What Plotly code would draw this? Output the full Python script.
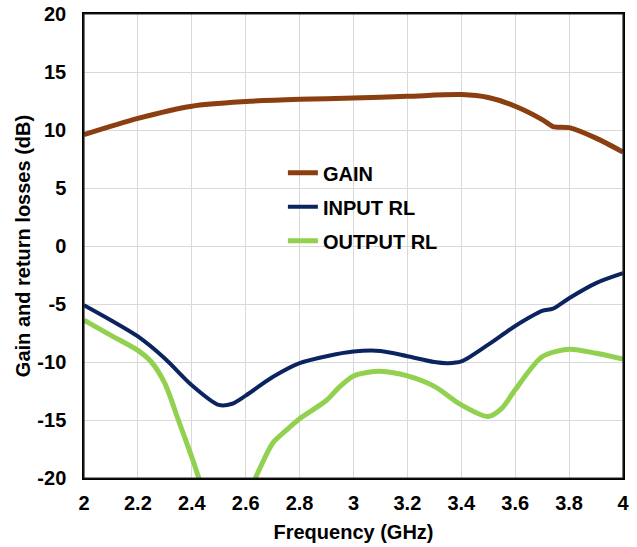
import plotly.graph_objects as go

freq_gain = [2.0, 2.2, 2.4, 2.6, 2.8, 3.0, 3.2, 3.4, 3.5, 3.6, 3.7, 3.74, 3.8, 3.9, 4.0]
gain = [9.6, 11.0, 12.05, 12.45, 12.65, 12.75, 12.9, 13.05, 12.8, 12.05, 10.9, 10.3, 10.2, 9.3, 8.1]

freq_in = [2.0, 2.1, 2.2, 2.3, 2.4, 2.5, 2.55, 2.6, 2.7, 2.8, 2.9, 3.0, 3.1, 3.2, 3.3, 3.35, 3.4,
           3.5, 3.6, 3.7, 3.74, 3.8, 3.9, 4.0]
input_rl = [-5.1, -6.4, -7.8, -9.7, -12.0, -13.7, -13.6, -12.9, -11.3, -10.1, -9.5, -9.1, -9.05,
            -9.5, -10.0, -10.1, -9.95, -8.5, -6.9, -5.6, -5.4, -4.5, -3.2, -2.35]

freq_out = [2.0, 2.1, 2.2, 2.25, 2.3, 2.35, 2.4, 2.45, 2.5, 2.55, 2.6, 2.65, 2.7, 2.75, 2.8, 2.9,
            2.95, 3.0, 3.05, 3.1, 3.2, 3.3, 3.4, 3.5, 3.55, 3.6, 3.7, 3.8, 3.9, 4.0]
output_rl = [-6.4, -7.7, -9.0, -10.0, -11.85, -15.0, -18.2, -21.5, -23.5, -23.5, -21.8, -19.3,
             -17.0, -15.9, -14.9, -13.3, -12.1, -11.2, -10.9, -10.8, -11.2, -12.1, -13.7, -14.7,
             -14.0, -12.4, -9.55, -8.9, -9.25, -9.75]

x_ticks = [2, 2.2, 2.4, 2.6, 2.8, 3, 3.2, 3.4, 3.6, 3.8, 4]
y_ticks = [-20, -15, -10, -5, 0, 5, 10, 15, 20]

FONT = "Liberation Sans, Arial, sans-serif"

fig = go.Figure()
fig.add_trace(go.Scatter(x=freq_gain, y=gain, mode="lines", name="<b>GAIN</b>", legendgroup="a",
                         line=dict(color="#8B3E0F", width=5, shape="spline", smoothing=0.8)))
fig.add_trace(go.Scatter(x=freq_in, y=input_rl, mode="lines", name="<b>INPUT RL</b>", legendgroup="b",
                         line=dict(color="#0B2460", width=4, shape="spline", smoothing=0.8)))
fig.add_trace(go.Scatter(x=freq_out, y=output_rl, mode="lines", name="<b>OUTPUT RL</b>", legendgroup="c",
                         line=dict(color="#92D050", width=5, shape="spline", smoothing=0.8)))

fig.update_layout(
    width=637, height=547,
    margin=dict(l=84, r=14, t=14, b=69),
    paper_bgcolor="white", plot_bgcolor="white",
    font=dict(family=FONT, size=20, color="black"),
    showlegend=True,
    legend=dict(x=0.369, y=0.70, xanchor="left", yanchor="top", bgcolor="rgba(0,0,0,0)",
                font=dict(size=20, family=FONT), tracegroupgap=5, itemwidth=30),
    shapes=[dict(type="rect", xref="paper", yref="paper", x0=0, x1=1, y0=0, y1=1,
                 line=dict(color="#222222", width=1.2), fillcolor="rgba(0,0,0,0)", layer="above")],
)
fig.update_xaxes(
    range=[2, 4], tickvals=x_ticks, ticktext=[f"<b>{v:g}</b>" for v in x_ticks],
    tickfont=dict(size=20), ticklabeloverflow="allow",
    showgrid=True, gridcolor="#D9D9D9", gridwidth=1,
    showline=True, linecolor="black", linewidth=1.5, mirror=True,
    ticks="", ticklabelstandoff=6, zeroline=False, automargin=False,
    title=dict(text="<b>Frequency (GHz)</b>", font=dict(size=20), standoff=12),
)
fig.update_yaxes(
    range=[-20, 20], tickvals=y_ticks, ticktext=[f"<b>{v}</b>" for v in y_ticks],
    tickfont=dict(size=20), ticklabeloverflow="allow",
    showgrid=True, gridcolor="#D9D9D9", gridwidth=1,
    showline=True, linecolor="black", linewidth=1.5, mirror=True,
    ticks="", ticklabelstandoff=12, zeroline=False, automargin=False,
    title=dict(text="<b>Gain and return losses (dB)</b>", font=dict(size=20), standoff=1),
)

# remove the browser's default 8px body margin so the 637x547 figure fills the window
fig.write_html("out.html", config={"displayModeBar": False},
               post_script="document.body.style.margin='0';")
